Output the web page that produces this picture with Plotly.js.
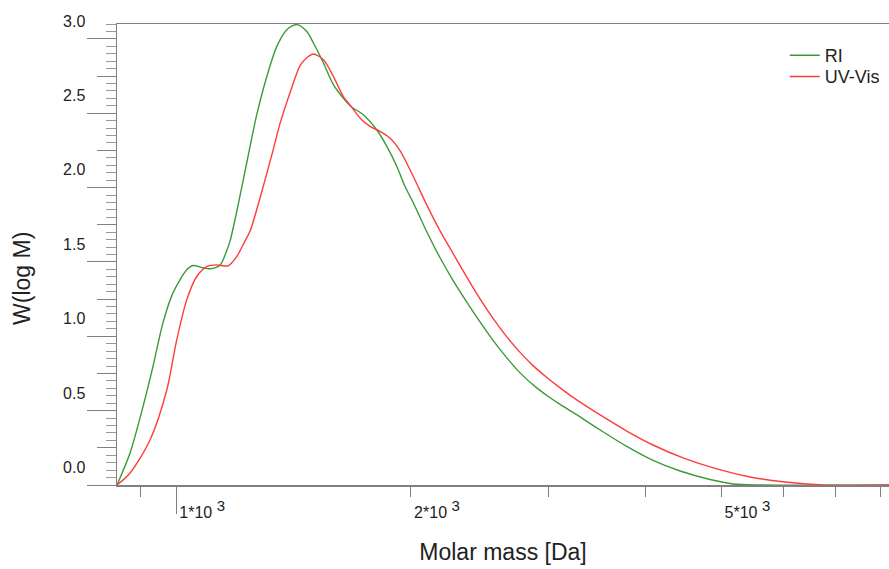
<!DOCTYPE html>
<html>
<head>
<meta charset="utf-8">
<script src="https://cdn.plot.ly/plotly-3.0.1.min.js"></script>
<style>html,body{margin:0;padding:0;background:#fff;}#chart{width:889px;height:569px;}</style>
</head>
<body>
<div id="chart"></div>
<script>
// Molar mass [Da] and W(log M)
const M_RI = [840, 873, 907, 934, 962, 991, 1032, 1051, 1083, 1106, 1139, 1161, 1173, 1196, 1232, 1269, 1307, 1346, 1387, 1428, 1471, 1500, 1545, 1591, 1638, 1679, 1738, 1808, 1863, 1919, 1966, 2015, 2096, 2180, 2267, 2358, 2453, 2552, 2655, 2761, 2900, 2988, 3107, 3228, 3497, 3783, 4088, 4428, 4837, 5177, 5608, 8204];
const W_RI = [0, 0.215, 0.527, 0.796, 1.090, 1.292, 1.447, 1.476, 1.460, 1.454, 1.480, 1.574, 1.642, 1.837, 2.167, 2.490, 2.745, 2.948, 3.062, 3.096, 3.049, 2.972, 2.838, 2.692, 2.602, 2.542, 2.490, 2.389, 2.277, 2.142, 2.007, 1.896, 1.703, 1.528, 1.373, 1.232, 1.097, 0.969, 0.855, 0.754, 0.653, 0.602, 0.542, 0.488, 0.370, 0.259, 0.165, 0.094, 0.037, 0.007, 0, 0];
const M_UV = [840, 873, 926, 973, 1002, 1032, 1063, 1095, 1128, 1166, 1196, 1226, 1244, 1282, 1332, 1359, 1400, 1442, 1471, 1500, 1545, 1591, 1638, 1679, 1721, 1773, 1826, 1880, 1937, 2015, 2096, 2180, 2267, 2358, 2453, 2552, 2655, 2761, 2871, 2988, 3107, 3228, 3497, 3783, 4088, 4467, 4934, 5444, 6000, 6752, 8204];
const W_UV = [0, 0.081, 0.303, 0.639, 0.976, 1.245, 1.402, 1.469, 1.480, 1.474, 1.536, 1.642, 1.706, 1.935, 2.254, 2.430, 2.638, 2.820, 2.873, 2.898, 2.860, 2.748, 2.613, 2.542, 2.468, 2.411, 2.378, 2.333, 2.248, 2.073, 1.884, 1.709, 1.554, 1.400, 1.252, 1.117, 0.996, 0.892, 0.801, 0.723, 0.653, 0.589, 0.471, 0.363, 0.269, 0.182, 0.108, 0.054, 0.022, 0.001, 0];
const SERIES = ['RI', 'UV-Vis'];
const X_LABEL_TICKS = [1000, 2000, 5000];
const X_LABEL_TEXT = ['1*10 <sup><span style="font-size:15px">3</span></sup>', '2*10 <sup><span style="font-size:15px">3</span></sup>', '5*10 <sup><span style="font-size:15px">3</span></sup>'];
const X_MINOR_TICKS = [900, 3000, 4000, 6000, 7000, 8000];
const Y_TICKS = [0, 0.5, 1.0, 1.5, 2.0, 2.5, 3.0];
const Y_TICK_TEXT = ['0.0', '0.5', '1.0', '1.5', '2.0', '2.5', '3.0'];

const FONT = 'Liberation Sans, Arial, sans-serif';
const AX = '#808080';
const xRange = [Math.log10(840), Math.log10(8204)];
const yRange = [0, 3.1];

const traces = [
  {x: M_RI, y: W_RI, name: SERIES[0], type: 'scatter', mode: 'lines', legend: 'legend',
   line: {color: '#3a9a3a', width: 1.4, shape: 'spline', smoothing: 0.8}},
  {x: M_UV, y: W_UV, name: SERIES[1], type: 'scatter', mode: 'lines', legend: 'legend2',
   line: {color: '#ff3c3c', width: 1.4, shape: 'spline', smoothing: 0.8}}
];

const legendBase = {xanchor: 'left', yanchor: 'top', bgcolor: 'rgba(0,0,0,0)', itemwidth: 30,
                    font: {family: FONT, size: 18, color: '#222'}};

const layout = {
  width: 889, height: 569,
  margin: {l: 117, r: 0, t: 24, b: 84},
  paper_bgcolor: '#fff', plot_bgcolor: '#fff',
  font: {family: FONT, size: 16, color: '#222'},
  showlegend: true,
  legend: Object.assign({x: 0.865, y: 0.9718}, legendBase),
  legend2: Object.assign({x: 0.865, y: 0.9257}, legendBase),
  xaxis: {type: 'log', range: xRange, showgrid: false, zeroline: false,
          showline: true, linecolor: AX, linewidth: 1.5, mirror: true,
          ticks: 'outside', ticklen: 10, tickcolor: AX, tickwidth: 1,
          tickvals: X_LABEL_TICKS, ticktext: X_LABEL_TEXT,
          ticklabelposition: 'outside right', ticklabelstandoff: 12, ticklabelshift: 2,
          tickfont: {family: FONT, size: 16, color: '#222'},
          minor: {tickmode: 'array', tickvals: X_MINOR_TICKS, ticks: 'outside', ticklen: 10, tickcolor: AX, tickwidth: 1},
          title: {text: 'Molar mass [Da]', font: {family: FONT, size: 23, color: '#222'}, standoff: 24}},
  xaxis2: {type: 'log', range: xRange, overlaying: 'x', anchor: 'y', side: 'bottom',
           showgrid: false, zeroline: false, showline: false,
           ticks: 'outside', ticklen: 28, tickcolor: AX, tickwidth: 1,
           tickvals: [1000], showticklabels: false},
  yaxis: {range: yRange, showgrid: false, zeroline: false,
          showline: true, linecolor: AX, linewidth: 1.5,
          ticks: 'outside', ticklen: 29, tickcolor: AX, tickwidth: 1,
          tickvals: Y_TICKS, ticktext: Y_TICK_TEXT,
          ticklabelposition: 'outside top', ticklabelstandoff: 27, ticklabelshift: -6,
          tickfont: {family: FONT, size: 16, color: '#222'},
          minor: {dtick: 0.05, tick0: 0, ticklen: 10, tickcolor: '#999', tickwidth: 1, ticks: 'outside'}},
  yaxis2: {range: yRange, overlaying: 'y', anchor: 'x', side: 'left',
           showgrid: false, zeroline: false, showline: false,
           ticks: 'outside', ticklen: 19, tickcolor: AX, tickwidth: 1,
           tick0: 0.25, dtick: 0.5, showticklabels: false},
  annotations: [
    {text: 'W(log M)', xref: 'paper', yref: 'paper', x: -0.123, y: 0.447,
     xanchor: 'center', yanchor: 'middle', textangle: -90, showarrow: false,
     font: {family: FONT, size: 23, color: '#222'}}
  ]
};

// invisible helper trace so the overlay axes (extra tick levels) are drawn
traces.push({x: [1000], y: [0], xaxis: 'x2', yaxis: 'y2', mode: 'markers',
  marker: {opacity: 0}, showlegend: false, hoverinfo: 'skip'});

Plotly.newPlot('chart', traces, layout, {staticPlot: true, displayModeBar: false});
</script>
</body>
</html>
